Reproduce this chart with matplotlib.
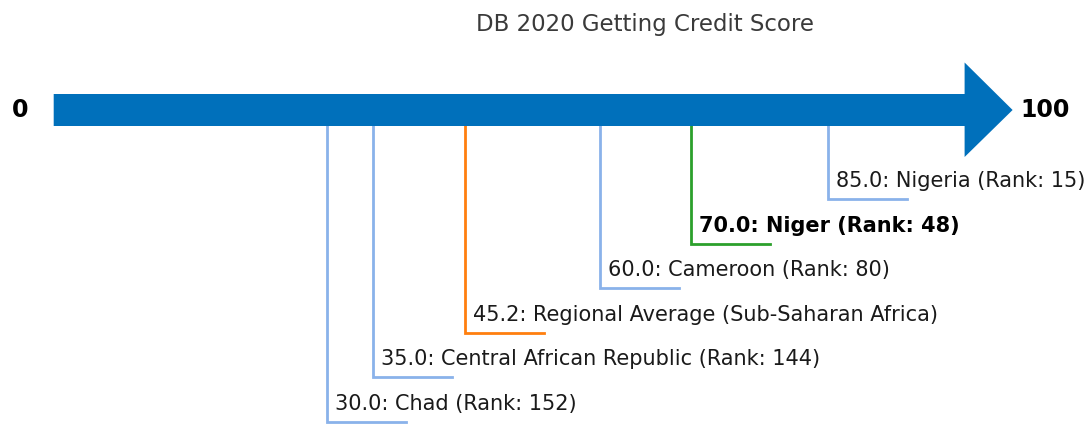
import matplotlib
matplotlib.use("Agg")
import matplotlib.pyplot as plt

title = "DB 2020 Getting Credit Score"
names = ["Chad", "Central African Republic", "Regional Average (Sub-Saharan Africa)",
         "Cameroon", "Niger", "Nigeria"]
scores = [30.0, 35.0, 45.2, 60.0, 70.0, 85.0]
ranks = [152, 144, None, 80, 48, 15]
kinds = ["peer", "peer", "regional", "peer", "focus", "peer"]
scale_min, scale_max = 0, 100

colors = {"peer": "#8ab2ea", "regional": "#ff7f0e", "focus": "#2ca02c"}

W, H = 1087, 424
fig = plt.figure(figsize=(W / 100, H / 100), dpi=100)
ax = fig.add_axes([0, 0, 1, 1])
px = 9.109  # pixels per score unit
x0 = 53.7
ax.set_xlim(-x0 / px, (W - x0) / px)
ax.set_ylim(H, 0)
ax.axis("off")

# arrow
body_top, body_bot = 94, 126
head_top, head_bot, mid = 62.5, 157, 110
head_len = 48 / px
xs = [scale_min, scale_max, scale_max, scale_max + head_len, scale_max, scale_max, scale_min]
ys = [body_top, body_top, head_top, mid, head_bot, body_bot, body_bot]
ax.fill(xs, ys, color="#0070bb", lw=0, zorder=3)

ax.text(scale_min - 3.65, mid, str(scale_min), fontsize=17, fontweight="bold",
        ha="center", va="center", color="black")
ax.text(scale_max + 8.85, mid, str(scale_max), fontsize=17, fontweight="bold",
        ha="center", va="center", color="black")

bottom_y = 422
step = 44.6
hlen = 79 / px
for i, (n, s, r, k) in enumerate(zip(names, scores, ranks, kinds)):
    y = bottom_y - i * step
    c = colors[k]
    ax.plot([s, s, s + hlen], [body_bot, y, y], color=c, lw=2.0, zorder=2,
            solid_joinstyle="miter")
    label = f"{s:.1f}: {n}" + (f" (Rank: {r})" if r is not None else "")
    ax.text(s + 8 / px, y - 18, label, fontsize=15, ha="left", va="center",
            color="black" if k == "focus" else "#1a1a1a",
            fontweight="bold" if k == "focus" else "normal")

fig.text(645 / W, 1 - 25 / H, title, fontsize=16.5, ha="center", va="center", color="#3a3a3a")

fig.savefig("out.png", dpi=100)
